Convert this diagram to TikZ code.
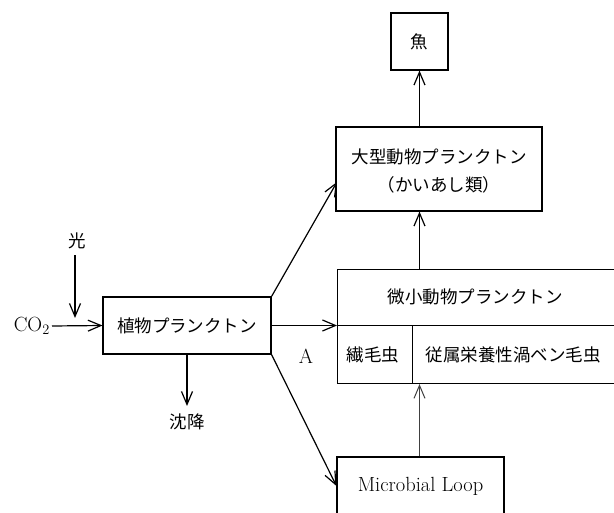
\documentclass[tikz,border=0pt]{standalone}
\usepackage{fontspec}
\newfontfamily\jp{Noto Sans CJK JP}
\usetikzlibrary{arrows.meta}
\begin{document}
\begin{tikzpicture}[x=1pt,y=-1pt,
  box/.style={draw,line width=1.1pt,inner sep=0pt},
  jt/.style={font=\jp\fontsize{17.5}{22}\selectfont,inner sep=0pt},
  lt/.style={font=\fontsize{20.5}{24}\selectfont,inner sep=0pt},
  flow/.style={line width=1.2pt,-{Straight Barb[length=13pt,width=11pt,line width=1.2pt]}},
  thinflow/.style={line width=0.8pt,draw=black!75,-{Straight Barb[length=13pt,width=11pt,line width=1pt]}}]
\useasboundingbox (0,0) rectangle (614,513);
\clip (0,0) rectangle (614,513);
\fill[white] (0,0) rectangle (614,513);
% boxes
\node[box,minimum width=57pt,minimum height=57pt,jt] (fish) at (419.5,41.5) {魚};
\node[box,minimum width=206pt,minimum height=84pt] (large) at (439,169) {};
\node[jt,align=center] (largetxt) at (439,171) {大型動物プランクトン\\[6pt]（かいあし類）};
\node[box,anchor=north west,minimum width=290pt,minimum height=56pt] (micro) at (337,269) {};
\node[jt] (microtxt) at (475,297) {微小動物プランクトン};
\node[box,anchor=north west,minimum width=75pt,minimum height=58pt] (cil) at (337,325) {};
\node[jt] (ciltxt) at (373,355) {繊毛虫};
\node[box,anchor=north west,minimum width=215pt,minimum height=58pt] (dino) at (412,325) {};
\node[jt] (dinotxt) at (513,355) {従属栄養性渦ベン毛虫};
\node[box,minimum width=168pt,minimum height=57pt,jt] (phyto) at (187,325.5) {植物プランクトン};
\node[box,minimum width=167pt,minimum height=58pt,lt] (loop) at (420.5,486) {Microbial Loop};
% labels
\node[lt,anchor=east] (co2) at (50,326) {CO$_2$};
\node[jt] (light) at (77,241) {光};
\node[jt] (sink) at (187,422) {沈降};
\node[lt] (A) at (306,356) {A};
\coordinate (lightend) at (75,318);
\coordinate (sinkend) at (187,406);
\coordinate (lgin) at (337,182);
% connectors
\draw[flow] (co2.east) ++(2,0) -- (phyto.west);
\draw[flow] (light.south) ++(-2,6) -- (lightend);
\draw[flow] (phyto.south) -- (sinkend);
\draw[flow] (phyto.east) -- (phyto.east -| micro.west);
\draw[flow] (phyto.north east) -- (lgin);
\draw[flow] (phyto.south east) -- (loop.west);
\draw[flow] (large.north -| fish.south) -- (fish.south);
\draw[flow] (micro.north -| fish.south) -- (large.south -| fish.south);
\draw[thinflow] (loop.north -| fish.south) -- (cil.south -| fish.south);
\end{tikzpicture}
\end{document}
